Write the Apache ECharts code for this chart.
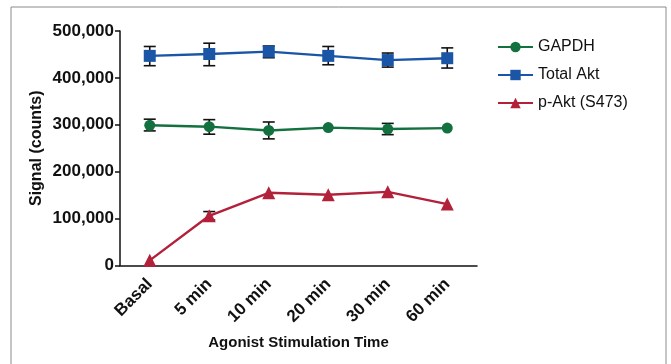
<!DOCTYPE html>
<html>
<head>
<meta charset="utf-8">
<script src="https://cdn.jsdelivr.net/npm/echarts@6/dist/echarts.min.js"></script>
<style>
  html, body { margin: 0; padding: 0; background: #fff; }
  #chart { width: 671px; height: 364px; }
</style>
</head>
<body>
<div id="chart"></div>
<script>
// categories and values
var categories = ['Basal', '5 min', '10 min', '20 min', '30 min', '60 min'];

var gapdh     = [299000, 296000, 288000, 294000, 291000, 293000];
var gapdhLow  = [287000, 280000, 270000, null,   279000, null];
var gapdhHigh = [312000, 311000, 306000, null,   303000, null];

var totalAkt     = [447000, 451000, 456000, 447000, 438000, 442000];
var totalAktLow  = [426000, 426000, 443000, 428000, 423000, 421000];
var totalAktHigh = [467000, 474000, 468000, 467000, 453000, 464000];

var pAkt     = [11000, 106000, 155000, 151000, 157000, 131000];
var pAktLow  = [null,  97000,  null,   null,   null,   null];
var pAktHigh = [null,  115000, null,   null,   null,   null];

var yTicks = [0, 100000, 200000, 300000, 400000, 500000];

// ---------------------- helpers ----------------------
var fmt = function (v) {
  return String(v).replace(/\B(?=(\d{3})+(?!\d))/g, ',');
};

var errData = function (low, high) {
  var out = [], i;
  for (i = 0; i < low.length; i++) {
    if (low[i] !== null) { out.push([i, low[i], high[i]]); }
  }
  return out;
};

var renderErr = function (params, api) {
  var x = api.value(0),
    lo = api.coord([x, api.value(1)]),
    hi = api.coord([x, api.value(2)]),
    cap = 6,
    style = { stroke: '#111', lineWidth: 1.6 };
  return {
    type: 'group',
    children: [
      { type: 'line', shape: { x1: lo[0], y1: lo[1], x2: hi[0], y2: hi[1] }, style: style },
      { type: 'line', shape: { x1: lo[0] - cap, y1: lo[1], x2: lo[0] + cap, y2: lo[1] }, style: style },
      { type: 'line', shape: { x1: hi[0] - cap, y1: hi[1], x2: hi[0] + cap, y2: hi[1] }, style: style }
    ]
  };
};

var errSeries = function (low, high) {
  return {
    type: 'custom',
    renderItem: renderErr,
    data: errData(low, high),
    encode: { x: 0, y: [1, 2] },
    z: 1,
    silent: true
  };
};

var lineSeries = function (name, data, color, symbol, size) {
  return {
    name: name,
    type: 'line',
    data: data,
    symbol: symbol,
    symbolSize: size,
    showAllSymbol: true,
    lineStyle: { color: color, width: 2.4 },
    itemStyle: { color: color },
    z: 3
  };
};

// ---------------------- chart ----------------------
var myChart = echarts.init(document.getElementById('chart'));

var option = {
  animation: false,
  textStyle: { fontFamily: 'Liberation Sans, Arial, sans-serif' },
  graphic: [{
    type: 'rect',
    shape: { x: 11, y: 7, width: 655, height: 370 },
    style: { fill: 'none', stroke: '#8a8a8a', lineWidth: 1 },
    silent: true
  }],
  grid: { left: 120, top: 31, right: 194, bottom: 98.5 },
  legend: {
    orient: 'vertical',
    left: 492,
    top: 34,
    itemWidth: 35,
    itemHeight: 13,
    itemGap: 12,
    textStyle: { fontSize: 16, color: '#111' },
    data: ['GAPDH', 'Total Akt', 'p-Akt (S473)']
  },
  xAxis: {
    type: 'category',
    data: categories,
    boundaryGap: true,
    name: 'Agonist Stimulation Time',
    nameLocation: 'middle',
    nameGap: 70,
    nameMoveOverlap: false,
    nameTextStyle: { fontSize: 15, fontWeight: 'bold', color: '#111' },
    axisLine: { lineStyle: { color: '#111', width: 1.5 } },
    axisTick: { alignWithLabel: true, length: 5, lineStyle: { color: '#111', width: 1.5 } },
    axisLabel: { rotate: 45, fontSize: 17, fontWeight: 'bold', color: '#111', margin: 16 }
  },
  yAxis: {
    type: 'value',
    min: yTicks[0],
    max: yTicks[yTicks.length - 1],
    interval: yTicks[1] - yTicks[0],
    name: 'Signal (counts)',
    nameLocation: 'middle',
    nameGap: 75,
    nameMoveOverlap: false,
    nameTextStyle: { fontSize: 16, fontWeight: 'bold', color: '#111' },
    splitLine: { show: false },
    axisLine: { show: true, lineStyle: { color: '#111', width: 1.5 } },
    axisTick: { show: true, length: 5, lineStyle: { color: '#111', width: 1.5 } },
    axisLabel: { fontSize: 17, fontWeight: 'bold', color: '#111', margin: 6, formatter: fmt }
  },
  series: [
    lineSeries('GAPDH', gapdh, '#13703f', 'circle', 11),
    lineSeries('Total Akt', totalAkt, '#1a55a6', 'rect', 12),
    lineSeries('p-Akt (S473)', pAkt, '#b3203a', 'triangle', 13),
    errSeries(gapdhLow, gapdhHigh),
    errSeries(totalAktLow, totalAktHigh),
    errSeries(pAktLow, pAktHigh)
  ]
};

myChart.setOption(option);
</script>
</body>
</html>
